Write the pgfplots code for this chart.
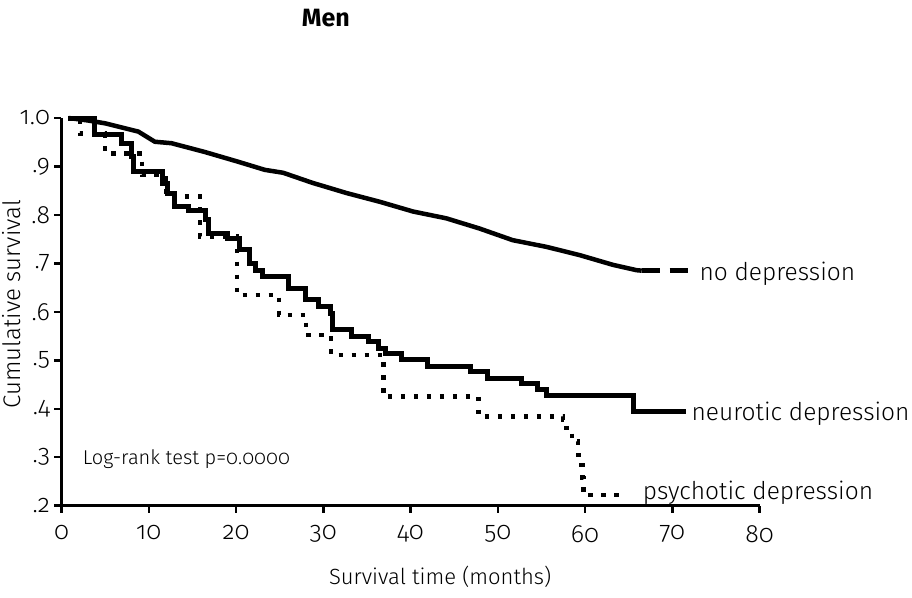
\documentclass[border=0pt]{standalone}
\usepackage{pgfplots}
\pgfplotsset{compat=1.18}
\usepackage{fontspec}
\setmainfont{Fira Sans Light}[Numbers=OldStyle, BoldFont={Fira Sans Bold}]
\begin{document}
\begin{tikzpicture}
\begin{axis}[
  scale only axis, width=698pt, height=387.7pt,
  xmin=0, xmax=80, ymin=0.2, ymax=1.0,
  axis x line*=bottom, axis y line*=left,
  axis line style={line width=2.5pt},
  tick pos=left,
  xtick={0,10,20,30,40,50,60,70,80},
  xticklabels={0,10,20,30,40,50,60,70,80},
  ytick={0.2,0.3,0.4,0.5,0.6,0.7,0.8,0.9,1.0},
  yticklabels={.2,.3,.4,.5,.6,.7,.8,.9,1.0},
  tick align=outside, major tick length=7pt,
  every tick/.style={line width=2.5pt, black},
  tick label style={font=\fontsize{25}{29}\selectfont\addfontfeatures{Numbers=OldStyle}},
  xticklabel style={yshift=-9pt},
  yticklabel style={xshift=-1pt},
  clip=false,
]
% no depression
\addplot[line width=4.5pt] coordinates {
(0.8,1.0)(3,0.995)(5,0.989)(7,0.980)(8.8,0.972)(10.7,0.951)(12.6,0.948)
(16.4,0.930)(20.2,0.910)(23.3,0.893)(25.4,0.887)(28.8,0.866)(32.7,0.845)
(36.5,0.827)(40.3,0.807)(44.1,0.793)(47.9,0.772)(51.7,0.748)(55.6,0.734)
(59.4,0.717)(63.2,0.697)(65.9,0.686)(66.5,0.685)};
\addplot[line width=4.5pt, dash pattern=on 18pt off 10pt] coordinates {(66.5,0.685)(72.3,0.685)};
% neurotic depression
\addplot[const plot, line width=5pt] coordinates {
(0.8,1.0)(3.8,0.965)(6.9,0.948)(8.0,0.920)(8.2,0.889)(11.6,0.865)(12.2,0.845)
(13.0,0.817)(14.5,0.810)(16.5,0.790)(16.8,0.762)(19.0,0.752)(20.4,0.728)
(21.5,0.700)(22.2,0.686)(23.0,0.673)(26.0,0.649)(28.0,0.625)(29.4,0.611)
(30.8,0.597)(31.1,0.563)(33.2,0.549)(35.2,0.538)(36.3,0.525)(37.1,0.515)
(39.0,0.501)(42.0,0.487)(46.9,0.477)(48.8,0.463)(52.7,0.453)(54.6,0.439)
(55.6,0.428)(65.6,0.394)(71.6,0.394)};
% psychotic depression
\addplot[const plot, line width=4.5pt, dash pattern=on 4.5pt off 8.5pt] coordinates {
(0.8,1.0)(2.1,0.968)(5.0,0.927)(9.2,0.882)(12.0,0.838)(15.9,0.755)(20.1,0.635)
(24.9,0.594)(28.0,0.552)(30.9,0.511)(36.9,0.425)(47.8,0.384)(57.5,0.377)
(57.9,0.349)(58.5,0.332)(59.2,0.305)(59.6,0.284)(59.7,0.257)(59.8,0.222)(64.5,0.222)};
\node[anchor=base west, font=\fontsize{24.5}{28}\selectfont, inner sep=0pt] at (axis cs:73.1,0.664) {no depression};
\node[anchor=base west, font=\fontsize{24.5}{28}\selectfont, inner sep=0pt] at (axis cs:72.2,0.375) {neurotic depression};
\node[anchor=base west, font=\fontsize{24.5}{28}\selectfont, inner sep=0pt] at (axis cs:66.6,0.212) {psychotic depression};
\node[anchor=base west, font=\fontsize{20}{24}\selectfont, inner sep=0pt] at (axis cs:2.43,0.284) {Log-rank test p=0.0000};
\node[anchor=base, font=\bfseries\fontsize{25}{29}\selectfont, inner sep=0pt] at (axis cs:30.3,1.188) {Men};
\node[rotate=90, anchor=center, font=\fontsize{24}{28}\selectfont, inner sep=0pt] at (axis cs:-5.67,0.616) {Cumulative survival};
\node[anchor=base, font=\fontsize{22}{26}\selectfont, inner sep=0pt] at (axis cs:43.4,0.0384) {Survival time (months)};
\end{axis}
\pgfresetboundingbox
\path[use as bounding box] ([shift={(-61.5pt,-91.3pt)}]current axis.south west) rectangle ([shift={(850.5pt,505.7pt)}]current axis.south west);
\end{tikzpicture}
\end{document}
